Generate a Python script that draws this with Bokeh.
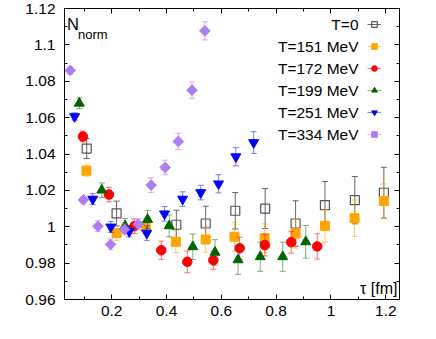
from bokeh.plotting import figure
from bokeh.models import (ColumnDataSource, FixedTicker, CustomJSTickFormatter, LinearAxis,
                          Label, Legend, LegendItem, Range1d)
from bokeh.embed import file_html
from bokeh.resources import INLINE

# ---------------- data ----------------
series_labels = ["T=0", "T=151 MeV", "T=172 MeV", "T=199 MeV", "T=251 MeV", "T=334 MeV"]

t0_x = [0.109, 0.218, 0.436, 0.543, 0.651, 0.760, 0.871, 0.978, 1.087, 1.193]
t0_y = [1.0430, 1.0073, 1.0011, 1.0018, 1.0088, 1.0100, 1.0018, 1.0119, 1.0146, 1.0187]
t0_e = [0.0055, 0.0068, 0.0080, 0.0095, 0.0100, 0.0110, 0.0125, 0.0130, 0.0130, 0.0140]

t151_x = [0.108, 0.218, 0.324, 0.434, 0.543, 0.648, 0.758, 0.871, 0.978, 1.086, 1.193]
t151_y = [1.0308, 0.9965, 1.0002, 0.9917, 0.9930, 0.9945, 0.9936, 0.9963, 1.0005, 1.0047, 1.0141]
t151_e = [0.0030, 0.0040, 0.0040, 0.0060, 0.0070, 0.0080, 0.0080, 0.0080, 0.0090, 0.0100, 0.0095]

t172_x = [0.095, 0.190, 0.283, 0.381, 0.476, 0.571, 0.667, 0.759, 0.855, 0.950]
t172_y = [1.0496, 1.0177, 1.0003, 0.9871, 0.9807, 0.9816, 0.9882, 0.9899, 0.9915, 0.9892]
t172_e = [0.0030, 0.0040, 0.0040, 0.0050, 0.0060, 0.0050, 0.0060, 0.0060, 0.0060, 0.0070]

t199_x = [0.082, 0.164, 0.249, 0.331, 0.410, 0.496, 0.577, 0.661, 0.742, 0.824, 0.908]
t199_y = [1.0679, 1.0201, 1.0005, 1.0040, 1.0005, 0.9890, 0.9859, 0.9818, 0.9835, 0.9835, 0.9917]
t199_e = [0.0030, 0.0040, 0.0040, 0.0050, 0.0060, 0.0070, 0.0070, 0.0080, 0.0080, 0.0080, 0.0090]

t251_x = [0.065, 0.131, 0.197, 0.264, 0.328, 0.393, 0.459, 0.525, 0.590, 0.653, 0.718]
t251_y = [1.0606, 1.0152, 0.9999, 0.9974, 0.9965, 1.0071, 1.0152, 1.0188, 1.0236, 1.0385, 1.0463]
t251_e = [0.0020, 0.0030, 0.0030, 0.0030, 0.0040, 0.0040, 0.0040, 0.0040, 0.0050, 0.0050, 0.0060]

t334_x = [0.049, 0.097, 0.150, 0.196, 0.247, 0.297, 0.344, 0.395, 0.443, 0.493, 0.540]
t334_y = [1.0859, 1.0148, 1.0003, 0.9903, 0.9985, 1.0014, 1.0229, 1.0326, 1.0469, 1.0751, 1.1077]
t334_e = [0.0020, 0.0020, 0.0030, 0.0030, 0.0030, 0.0030, 0.0040, 0.0040, 0.0045, 0.0045, 0.0050]

x_ticks = [0.2, 0.4, 0.6, 0.8, 1.0, 1.2]
x_minor = [0.1, 0.3, 0.5, 0.7, 0.9, 1.1]
y_ticks = [0.96, 0.98, 1.00, 1.02, 1.04, 1.06, 1.08, 1.10, 1.12]
y_minor = [0.97, 0.99, 1.01, 1.03, 1.05, 1.07, 1.09, 1.11]

x_title = "τ [fm]"
y_title_main = "N"
y_title_sub = "norm"

# ---------------- styles ----------------
FONT = "Liberation Sans"
styles = [
    dict(marker="square", color="#555555", fill=None, bar="#555555", bar_alpha=0.9, size=9, angle=0.0),
    dict(marker="square", color="#ffa500", fill="#ffa500", bar="#ffa500", bar_alpha=0.6, size=9, angle=0.0),
    dict(marker="circle", color="#ff0000", fill="#ff0000", bar="#ff0000", bar_alpha=0.55, size=9.5, angle=0.0),
    dict(marker="triangle", color="#006400", fill="#006400", bar="#006400", bar_alpha=0.5, size=10, angle=0.0),
    dict(marker="inverted_triangle", color="#0000ff", fill="#0000ff", bar="#0000ff", bar_alpha=0.5, size=10, angle=0.0),
    dict(marker="square", color="#b07cf2", fill="#b07cf2", bar="#b07cf2", bar_alpha=0.6, size=7.5, angle=0.785398),
]
data = [(t0_x, t0_y, t0_e), (t151_x, t151_y, t151_e), (t172_x, t172_y, t172_e),
        (t199_x, t199_y, t199_e), (t251_x, t251_y, t251_e), (t334_x, t334_y, t334_e)]

W, H = 420, 323
BL, BR, BT, BB = 64, 21, 8, 24
FW, FH = W - BL - BR, H - BT - BB

p = figure(width=W, height=H, output_backend="svg", toolbar_location=None,
           x_range=Range1d(0.028, 1.25), y_range=Range1d(0.96, 1.12),
           min_border_left=BL, min_border_right=BR, min_border_top=BT, min_border_bottom=BB,
           x_axis_type=None, y_axis_type=None)
p.background_fill_color = "white"
p.border_fill_color = "white"
p.outline_line_color = "black"
p.outline_line_width = 1
p.xgrid.visible = False
p.ygrid.visible = False

fmt = CustomJSTickFormatter(code="return String(Math.round(tick*100)/100);")
blank = CustomJSTickFormatter(code="return '';")

def style_axis(ax, labels=True):
    ax.major_tick_in = 5
    ax.major_tick_out = 0
    ax.minor_tick_in = 3
    ax.minor_tick_out = 0
    ax.axis_line_color = "black"
    ax.major_tick_line_color = "black"
    ax.minor_tick_line_color = "black"
    ax.major_label_text_font = FONT
    ax.major_label_text_color = "black"
    ax.major_label_text_font_size = "15.5px"
    if not labels:
        ax.major_label_standoff = 0

xb = LinearAxis(ticker=FixedTicker(ticks=x_ticks, minor_ticks=x_minor), formatter=fmt)
style_axis(xb)
xb.major_label_standoff = 6
p.add_layout(xb, "below")
xt = LinearAxis(ticker=FixedTicker(ticks=x_ticks, minor_ticks=x_minor), formatter=blank)
style_axis(xt, labels=False)
p.add_layout(xt, "above")
yl = LinearAxis(ticker=FixedTicker(ticks=y_ticks, minor_ticks=y_minor), formatter=fmt)
style_axis(yl)
yl.major_label_standoff = 9
p.add_layout(yl, "left")
yr = LinearAxis(ticker=FixedTicker(ticks=y_ticks, minor_ticks=y_minor), formatter=blank)
style_axis(yr, labels=False)
p.add_layout(yr, "right")

items = []
for (xs, ys, es), st, lab in zip(data, styles, series_labels):
    src = ColumnDataSource(dict(x=xs, y=ys, lo=[y - e for y, e in zip(ys, es)],
                                hi=[y + e for y, e in zip(ys, es)]))
    bars = p.segment(x0="x", y0="lo", x1="x", y1="hi", source=src,
                     line_color=st["bar"], line_alpha=st["bar_alpha"], line_width=1)
    p.scatter(x="x", y="lo", source=src, marker="dash", size=6,
              line_color=st["bar"], line_alpha=st["bar_alpha"], line_width=1)
    p.scatter(x="x", y="hi", source=src, marker="dash", size=6,
              line_color=st["bar"], line_alpha=st["bar_alpha"], line_width=1)
    if st["fill"] is None:
        pts = p.scatter(x="x", y="y", source=src, marker=st["marker"], size=st["size"],
                        line_color=st["color"], fill_color=None, line_width=1.2, angle=st["angle"])
    else:
        pts = p.scatter(x="x", y="y", source=src, marker=st["marker"], size=st["size"],
                        line_color=st["color"], fill_color=st["fill"], line_width=1, angle=st["angle"])
    items.append(LegendItem(label="", renderers=[bars, pts]))

# legend: symbols to the right of right-aligned texts
row_h = 22
first_row = 16.3          # px below frame top of first legend row centre
leg_h = row_h * len(items)
leg = Legend(items=items, location=(303, FH - (first_row - row_h / 2) - leg_h),
             orientation="vertical",
             glyph_width=14, glyph_height=row_h, spacing=0, padding=0, margin=0,
             label_standoff=0, label_width=0, label_height=row_h,
             label_text_font_size="10px", border_line_color=None,
             background_fill_alpha=0.0)
p.add_layout(leg)

for i, lab in enumerate(series_labels):
    p.add_layout(Label(x=294, y=FH - first_row - i * row_h, x_units="screen", y_units="screen",
                       text=lab, text_align="right", text_baseline="middle",
                       text_font=FONT, text_font_size="15.5px", text_color="black"))

p.add_layout(Label(x=2.5, y=FH - 6, x_units="screen", y_units="screen", text=y_title_main,
                   text_align="left", text_baseline="top", text_font=FONT,
                   text_font_size="16.5px", text_color="black"))
p.add_layout(Label(x=13.5, y=FH - 26, x_units="screen", y_units="screen", text=y_title_sub,
                   text_align="left", text_baseline="alphabetic", text_font=FONT,
                   text_font_size="13px", text_color="black"))
p.add_layout(Label(x=FW - 2, y=11, x_units="screen", y_units="screen", text=x_title,
                   text_align="right", text_baseline="alphabetic", text_font=FONT,
                   text_font_size="16px", text_color="black"))

open("out.html", "w").write(file_html(p, INLINE))
